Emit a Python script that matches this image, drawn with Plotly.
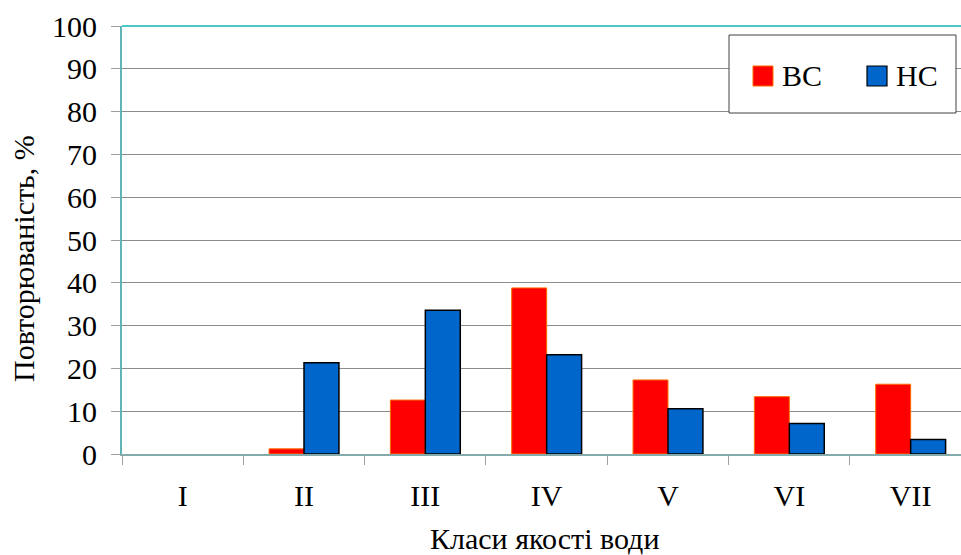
import plotly.graph_objects as go

# Water quality classes and frequency of occurrence (%) at the two sections
classes = ["I", "II", "III", "IV", "V", "VI", "VII"]
upper_section = [0, 1.2, 12.6, 38.8, 17.3, 13.4, 16.3]   # ВС
lower_section = [0, 21.3, 33.6, 23.2, 10.6, 7.1, 3.4]    # НС
y_ticks = [0, 10, 20, 30, 40, 50, 60, 70, 80, 90, 100]

W, H = 961, 555
L, R, T, B = 122, 961, 26, 454
FONT = "Liberation Serif"
FS = 30
RED, RED_EDGE = "#FF0000", "#FF6A00"
BLUE, BLUE_EDGE = "#0066CC", "#000000"


def px(xp):
    return (xp - L) / (R - L)


def py(yp):
    return (B - yp) / (B - T)


def edge_widths(values, w):
    # no outline on empty bars
    return [0 if v == 0 else w for v in values]


fig = go.Figure()
fig.add_trace(go.Bar(
    x=classes, y=upper_section, name="ВС",
    marker=dict(color=RED, line=dict(color=RED_EDGE, width=edge_widths(upper_section, 1))),
    showlegend=False,
))
fig.add_trace(go.Bar(
    x=classes, y=lower_section, name="НС",
    marker=dict(color=BLUE, line=dict(color=BLUE_EDGE, width=edge_widths(lower_section, 1.5))),
    showlegend=False,
))

shapes = [
    # top frame line of the plot area
    dict(type="line", xref="paper", yref="paper", x0=0, x1=1, y0=1, y1=1,
         line=dict(color="#4CC8C8", width=2)),
    # legend frame
    dict(type="rect", xref="paper", yref="paper",
         x0=px(729), x1=px(956), y0=py(113), y1=py(35),
         line=dict(color="#404040", width=1), fillcolor="white"),
    # legend swatches
    dict(type="rect", xref="paper", yref="paper",
         x0=px(753), x1=px(773), y0=py(86), y1=py(66),
         line=dict(color=RED_EDGE, width=1), fillcolor=RED),
    dict(type="rect", xref="paper", yref="paper",
         x0=px(867), x1=px(887), y0=py(86), y1=py(66),
         line=dict(color=BLUE_EDGE, width=1.2), fillcolor=BLUE),
]

annotations = [
    dict(text="ВС", xref="paper", yref="paper", x=px(780), y=py(76),
         xanchor="left", yanchor="middle", showarrow=False,
         font=dict(family=FONT, size=FS, color="black")),
    dict(text="НС", xref="paper", yref="paper", x=px(894), y=py(76),
         xanchor="left", yanchor="middle", showarrow=False,
         font=dict(family=FONT, size=FS, color="black")),
    dict(text="Класи якості води", xref="paper", yref="paper",
         x=px(544), y=py(538), xanchor="center", yanchor="middle",
         showarrow=False, font=dict(family=FONT, size=FS, color="black")),
    dict(text="Повторюваність, %", xref="paper", yref="paper",
         x=px(23), y=py(259), xanchor="center", yanchor="middle",
         textangle=-90, showarrow=False,
         font=dict(family=FONT, size=FS, color="black")),
]

fig.update_layout(
    width=W, height=H,
    margin=dict(l=L, r=W - R, t=T, b=H - B, pad=0),
    paper_bgcolor="white", plot_bgcolor="white",
    barmode="group", bargap=0.424, bargroupgap=0,
    font=dict(family=FONT, size=FS, color="black"),
    shapes=shapes, annotations=annotations,
)

n_visible = (R - L) / 121.33
fig.update_xaxes(
    range=[-0.5, -0.5 + n_visible],
    showline=True, linecolor="#86AAAA", linewidth=2,
    showgrid=False, zeroline=False,
    ticks="outside", ticklen=9, tickcolor="#A0A0A0", tickwidth=1,
    tickson="boundaries", ticklabelstandoff=14,
    tickfont=dict(family=FONT, size=FS, color="black"),
)
fig.update_yaxes(
    range=[0, 100], tickvals=y_ticks,
    showline=True, linecolor="#5FB5B5", linewidth=2,
    showgrid=True, gridcolor="#8C8C8C", gridwidth=1,
    zeroline=False,
    ticks="outside", ticklen=9, tickcolor="#A0A0A0", tickwidth=1,
    ticklabelstandoff=8,
    tickfont=dict(family=FONT, size=FS, color="black"),
)

fig.write_html("out.html")
